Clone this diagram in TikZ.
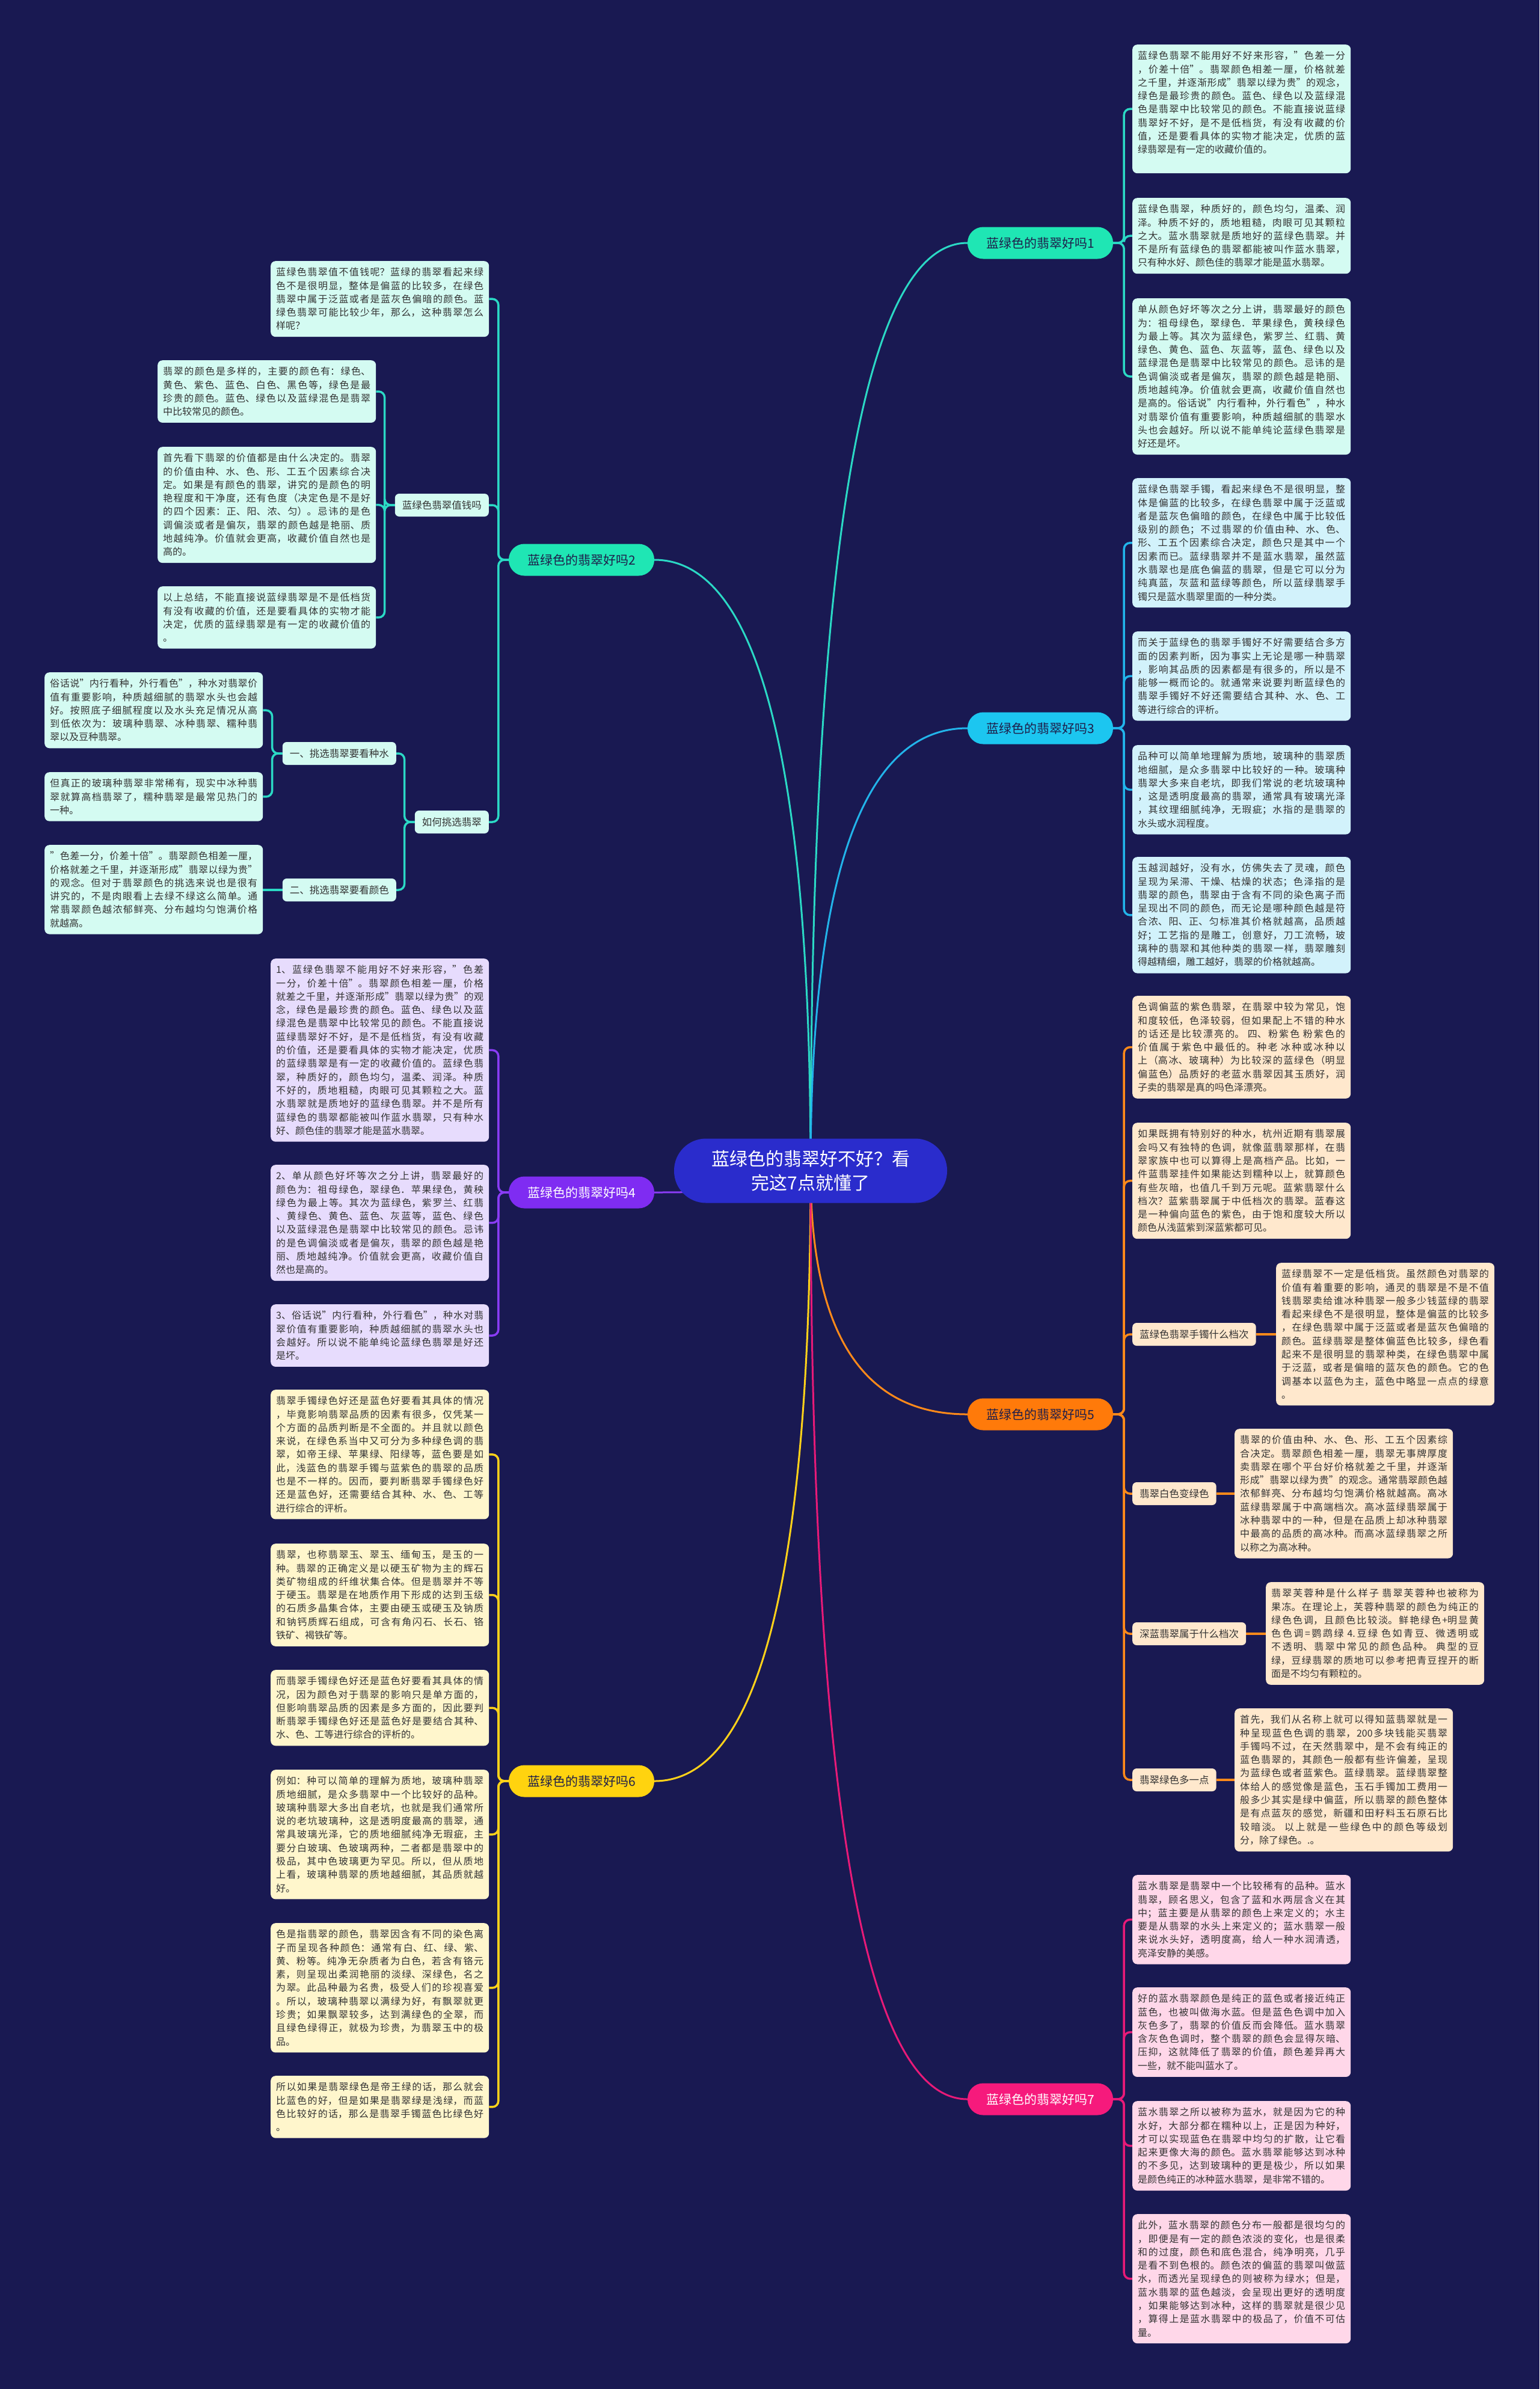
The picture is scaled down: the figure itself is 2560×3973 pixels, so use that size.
\documentclass[tikz,border=0pt]{standalone}
\usepackage{fontspec}
\setmainfont{Noto Sans CJK SC}
\usetikzlibrary{calc}
\XeTeXlinebreaklocale "zh"
\XeTeXlinebreakskip=0pt plus 2pt minus 0.3pt
\definecolor{bgc}{HTML}{191952}
\definecolor{txt}{HTML}{333333}
\definecolor{dk}{HTML}{1E1E4A}
\definecolor{rootc}{HTML}{2A2CCC}
\definecolor{mintF}{HTML}{1FE6B4}
\definecolor{mintL}{HTML}{2BD9C5}
\definecolor{cyanF}{HTML}{1CC6F0}
\definecolor{cyanL}{HTML}{22B4EA}
\definecolor{purF}{HTML}{7F2CF2}
\definecolor{purL}{HTML}{8A3CF5}
\definecolor{orgF}{HTML}{FF7A0A}
\definecolor{orgL}{HTML}{FF8A1A}
\definecolor{yelF}{HTML}{FFD30F}
\definecolor{yelL}{HTML}{FFD21A}
\definecolor{pnkF}{HTML}{F61A7C}
\definecolor{pnkL}{HTML}{E81A78}
\definecolor{mintB}{HTML}{D4FBF2}
\definecolor{cyanB}{HTML}{D2F2FB}
\definecolor{purB}{HTML}{E7DCFD}
\definecolor{orgB}{HTML}{FFE8CD}
\definecolor{yelB}{HTML}{FFF6CC}
\definecolor{pnkB}{HTML}{FFD7E9}
\newcommand\NL{\linebreak}
\pgfdeclarelayer{back}
\pgfdeclarelayer{edges}
\pgfsetlayers{back,edges,main}
\tikzset{
  leaf/.style={rounded corners=8pt, inner xsep=9pt, inner ysep=11pt, text width=345pt,
    align=justify, font=\fontsize{16}{22.3}\selectfont, text=txt, anchor=north west},
  lab/.style={rounded corners=7pt, inner xsep=12pt, inner ysep=0pt, minimum height=38pt,
    font=\fontsize{16.5}{20}\selectfont, text=txt},
  br/.style={rounded corners=26pt, minimum width=242pt, minimum height=53pt, inner sep=0pt,
    font=\fontsize{21}{24}\selectfont},
  rootn/.style={fill=rootc, rounded corners=53pt, minimum width=454pt, minimum height=107pt,
    inner sep=0pt, align=center, text=white, font=\fontsize{30}{40}\selectfont},
  rl/.style={line width=3pt},
  ll/.style={line width=3.5pt, rounded corners=10pt}
}
\newcommand\rootlink[2]{\draw[rl,#2] (R.center) .. controls ($(R.center)!0.667!(R.center|-#1)$) and ($(#1)!0.667!(R.center|-#1)$) .. (#1);}
\newcommand\rlink[3]{\draw[ll,#3] (#1.east) -- ++(18,0) |- (#2.west);}
\newcommand\llink[3]{\draw[ll,#3] (#1.west) -- ++(-17,0) |- (#2.east);}
\begin{document}
\begin{tikzpicture}[x=1pt,y=-1pt]
\begin{pgfonlayer}{back}
\fill[bgc] (0,0) rectangle (2560,3973);
\end{pgfonlayer}
\useasboundingbox (0,0) rectangle (2560,3973);

% root and branches
\node[rootn] (R) at (1348,1947) {蓝绿色的翡翠好不好？看\\完这7点就懂了};
\node[br, fill=mintF, text=dk] (B1) at (1730,404) {蓝绿色的翡翠好吗1};
\node[br, fill=mintF, text=dk] (B2) at (967,931) {蓝绿色的翡翠好吗2};
\node[br, fill=cyanF, text=dk] (B3) at (1730,1211) {蓝绿色的翡翠好吗3};
\node[br, fill=purF, text=white] (B4) at (967,1983) {蓝绿色的翡翠好吗4};
\node[br, fill=orgF, text=dk] (B5) at (1730,2352) {蓝绿色的翡翠好吗5};
\node[br, fill=yelF, text=dk] (B6) at (967,2962) {蓝绿色的翡翠好吗6};
\node[br, fill=pnkF, text=white] (B7) at (1730,3491) {蓝绿色的翡翠好吗7};

% ---- branch 1
\node[leaf, fill=mintB] (L1a) at (1883,74) {蓝绿色翡翠不能用好不好来形容，"色差一分\NL ，价差十倍"。翡翠颜色相差一厘，价格就差\NL 之千里，并逐渐形成"翡翠以绿为贵"的观念，\NL 绿色是最珍贵的颜色。蓝色、绿色以及蓝绿混\NL 色是翡翠中比较常见的颜色。不能直接说蓝绿\NL 翡翠好不好，是不是低档货，有没有收藏的价\NL 值，还是要看具体的实物才能决定，优质的蓝\NL 绿翡翠是有一定的收藏价值的。\par\mbox{}};
\node[leaf, fill=mintB] (L1b) at (1883,329) {蓝绿色翡翠，种质好的，颜色均匀，温柔、润\NL 泽。种质不好的，质地粗糙，肉眼可见其颗粒\NL 之大。蓝水翡翠就是质地好的蓝绿色翡翠。并\NL 不是所有蓝绿色的翡翠都能被叫作蓝水翡翠，\NL 只有种水好、颜色佳的翡翠才能是蓝水翡翠。};
\node[leaf, fill=mintB] (L1c) at (1883,496) {单从颜色好坏等次之分上讲，翡翠最好的颜色\NL 为：祖母绿色，翠绿色．苹果绿色，黄秧绿色\NL 为最上等。其次为蓝绿色，紫罗兰、红翡、黄\NL 绿色、黄色、蓝色、灰蓝等，蓝色、绿色以及\NL 蓝绿混色是翡翠中比较常见的颜色。忌讳的是\NL 色调偏淡或者是偏灰，翡翠的颜色越是艳丽、\NL 质地越纯净。价值就会更高，收藏价值自然也\NL 是高的。俗话说"内行看种，外行看色"，种水\NL 对翡翠价值有重要影响，种质越细腻的翡翠水\NL 头也会越好。所以说不能单纯论蓝绿色翡翠是\NL 好还是坏。};

% ---- branch 3
\node[leaf, fill=cyanB] (L3a) at (1883,795) {蓝绿色翡翠手镯，看起来绿色不是很明显，整\NL 体是偏蓝的比较多，在绿色翡翠中属于泛蓝或\NL 者是蓝灰色偏暗的颜色，在绿色中属于比较低\NL 级别的颜色；不过翡翠的价值由种、水、色、\NL 形、工五个因素综合决定，颜色只是其中一个\NL 因素而已。蓝绿翡翠并不是蓝水翡翠，虽然蓝\NL 水翡翠也是底色偏蓝的翡翠，但是它可以分为\NL 纯真蓝，灰蓝和蓝绿等颜色，所以蓝绿翡翠手\NL 镯只是蓝水翡翠里面的一种分类。};
\node[leaf, fill=cyanB] (L3b) at (1883,1050) {而关于蓝绿色的翡翠手镯好不好需要结合多方\NL 面的因素判断，因为事实上无论是哪一种翡翠\NL ，影响其品质的因素都是有很多的，所以是不\NL 能够一概而论的。就通常来说要判断蓝绿色的\NL 翡翠手镯好不好还需要结合其种、水、色、工\NL 等进行综合的评析。};
\node[leaf, fill=cyanB] (L3c) at (1883,1239) {品种可以简单地理解为质地，玻璃种的翡翠质\NL 地细腻，是众多翡翠中比较好的一种。玻璃种\NL 翡翠大多来自老坑，即我们常说的老坑玻璃种\NL ，这是透明度最高的翡翠，通常具有玻璃光泽\NL ，其纹理细腻纯净，无瑕疵；水指的是翡翠的\NL 水头或水润程度。};
\node[leaf, fill=cyanB] (L3d) at (1883,1425) {玉越润越好，没有水，仿佛失去了灵魂，颜色\NL 呈现为呆滞、干燥、枯燥的状态；色泽指的是\NL 翡翠的颜色，翡翠由于含有不同的染色离子而\NL 呈现出不同的颜色，而无论是哪种颜色越是符\NL 合浓、阳、正、匀标准其价格就越高，品质越\NL 好；工艺指的是雕工，创意好，刀工流畅，玻\NL 璃种的翡翠和其他种类的翡翠一样，翡翠雕刻\NL 得越精细，雕工越好，翡翠的价格就越高。};

% ---- branch 5
\node[leaf, fill=orgB] (L5a) at (1883,1656) {色调偏蓝的紫色翡翠，在翡翠中较为常见，饱\NL 和度较低，色泽较弱，但如果配上不错的种水\NL 的话还是比较漂亮的。 四、粉紫色 粉紫色的\NL 价值属于紫色中最低的。种老 冰种或冰种以\NL 上（高冰、玻璃种）为比较深的蓝绿色（明显\NL 偏蓝色）品质好的老蓝水翡翠因其玉质好，润\NL 子卖的翡翠是真的吗色泽漂亮。};
\node[leaf, fill=orgB] (L5b) at (1883,1867) {如果既拥有特别好的种水，杭州近期有翡翠展\NL 会吗又有独特的色调，就像蓝翡翠那样，在翡\NL 翠家族中也可以算得上是高档产品。比如，一\NL 件蓝翡翠挂件如果能达到糯种以上，就算颜色\NL 有些灰暗，也值几千到万元呢。蓝紫翡翠什么\NL 档次？蓝紫翡翠属于中低档次的翡翠。蓝春这\NL 是一种偏向蓝色的紫色，由于饱和度较大所以\NL 颜色从浅蓝紫到深蓝紫都可见。};
\node[leaf, fill=orgB] (L5c) at (2122,2100) {蓝绿翡翠不一定是低档货。虽然颜色对翡翠的\NL 价值有着重要的影响，通灵的翡翠是不是不值\NL 钱翡翠卖给谁冰种翡翠一般多少钱蓝绿的翡翠\NL 看起来绿色不是很明显，整体是偏蓝的比较多\NL ，在绿色翡翠中属于泛蓝或者是蓝灰色偏暗的\NL 颜色。蓝绿翡翠是整体偏蓝色比较多，绿色看\NL 起来不是很明显的翡翠种类，在绿色翡翠中属\NL 于泛蓝，或者是偏暗的蓝灰色的颜色。它的色\NL 调基本以蓝色为主，蓝色中略显一点点的绿意\NL 。};
\node[lab, fill=orgB, anchor=west] (L5cl) at (1883,2219) {蓝绿色翡翠手镯什么档次};
\node[leaf, fill=orgB] (L5d) at (2053,2376) {翡翠的价值由种、水、色、形、工五个因素综\NL 合决定。翡翠颜色相差一厘，翡翠无事牌厚度\NL 卖翡翠在哪个平台好价格就差之千里，并逐渐\NL 形成"翡翠以绿为贵"的观念。通常翡翠颜色越\NL 浓郁鲜亮、分布越均匀饱满价格就越高。高冰\NL 蓝绿翡翠属于中高端档次。高冰蓝绿翡翠属于\NL 冰种翡翠中的一种，但是在品质上却冰种翡翠\NL 中最高的品质的高冰种。而高冰蓝绿翡翠之所\NL 以称之为高冰种。};
\node[lab, fill=orgB, anchor=west] (L5dl) at (1883,2484) {翡翠白色变绿色};
\node[leaf, fill=orgB] (L5e) at (2105,2631) {翡翠芙蓉种是什么样子 翡翠芙蓉种也被称为\NL 果冻。在理论上，芙蓉种翡翠的颜色为纯正的\NL 绿色色调，且颜色比较淡。鲜艳绿色+明显黄\NL 色色调=鹦鹉绿 4.豆绿 色如青豆、微透明或\NL 不透明、翡翠中常见的颜色品种。 典型的豆\NL 绿，豆绿翡翠的质地可以参考把青豆捏开的断\NL 面是不均匀有颗粒的。};
\node[lab, fill=orgB, anchor=west] (L5el) at (1883,2717) {深蓝翡翠属于什么档次};
\node[leaf, fill=orgB] (L5f) at (2053,2841) {首先，我们从名称上就可以得知蓝翡翠就是一\NL 种呈现蓝色色调的翡翠，200多块钱能买翡翠\NL 手镯吗不过，在天然翡翠中，是不会有纯正的\NL 蓝色翡翠的，其颜色一般都有些许偏差，呈现\NL 为蓝绿色或者蓝紫色。蓝绿翡翠。蓝绿翡翠整\NL 体给人的感觉像是蓝色，玉石手镯加工费用一\NL 般多少其实是绿中偏蓝，所以翡翠的颜色整体\NL 是有点蓝灰的感觉，新疆和田籽料玉石原石比\NL 较暗淡。 以上就是一些绿色中的颜色等级划\NL 分，除了绿色。.。};
\node[lab, fill=orgB, anchor=west] (L5fl) at (1883,2960) {翡翠绿色多一点};

% ---- branch 7
\node[leaf, fill=pnkB] (L7a) at (1883,3118) {蓝水翡翠是翡翠中一个比较稀有的品种。蓝水\NL 翡翠，顾名思义，包含了蓝和水两层含义在其\NL 中；蓝主要是从翡翠的颜色上来定义的；水主\NL 要是从翡翠的水头上来定义的；蓝水翡翠一般\NL 来说水头好，透明度高，给人一种水润清透，\NL 亮泽安静的美感。};
\node[leaf, fill=pnkB] (L7b) at (1883,3305) {好的蓝水翡翠颜色是纯正的蓝色或者接近纯正\NL 蓝色，也被叫做海水蓝。但是蓝色色调中加入\NL 灰色多了，翡翠的价值反而会降低。蓝水翡翠\NL 含灰色色调时，整个翡翠的颜色会显得灰暗、\NL 压抑，这就降低了翡翠的价值，颜色差异再大\NL 一些，就不能叫蓝水了。};
\node[leaf, fill=pnkB] (L7c) at (1883,3494) {蓝水翡翠之所以被称为蓝水，就是因为它的种\NL 水好，大部分都在糯种以上，正是因为种好，\NL 才可以实现蓝色在翡翠中均匀的扩散，让它看\NL 起来更像大海的颜色。蓝水翡翠能够达到冰种\NL 的不多见，达到玻璃种的更是极少，所以如果\NL 是颜色纯正的冰种蓝水翡翠，是非常不错的。};
\node[leaf, fill=pnkB] (L7d) at (1883,3682) {此外，蓝水翡翠的颜色分布一般都是很均匀的\NL ，即便是有一定的颜色浓淡的变化，也是很柔\NL 和的过度，颜色和底色混合，纯净明亮，几乎\NL 是看不到色根的。颜色浓的偏蓝的翡翠叫做蓝\NL 水，而透光呈现绿色的则被称为绿水；但是，\NL 蓝水翡翠的蓝色越淡，会呈现出更好的透明度\NL ，如果能够达到冰种，这样的翡翠就是很少见\NL ，算得上是蓝水翡翠中的极品了，价值不可估\NL 量。};

% ---- branch 2
\node[leaf, fill=mintB] (L2a) at (450,434) {蓝绿色翡翠值不值钱呢？蓝绿的翡翠看起来绿\NL 色不是很明显，整体是偏蓝的比较多，在绿色\NL 翡翠中属于泛蓝或者是蓝灰色偏暗的颜色。蓝\NL 绿色翡翠可能比较少年，那么，这种翡翠怎么\NL 样呢？};
\node[lab, fill=mintB, anchor=east] (L2l) at (813,840) {蓝绿色翡翠值钱吗};
\node[leaf, fill=mintB] (L2b1) at (262,599) {翡翠的颜色是多样的，主要的颜色有：绿色、\NL 黄色、紫色、蓝色、白色、黑色等，绿色是最\NL 珍贵的颜色。蓝色、绿色以及蓝绿混色是翡翠\NL 中比较常见的颜色。};
\node[leaf, fill=mintB] (L2b2) at (262,743) {首先看下翡翠的价值都是由什么决定的。翡翠\NL 的价值由种、水、色、形、工五个因素综合决\NL 定。如果是有颜色的翡翠，讲究的是颜色的明\NL 艳程度和干净度，还有色度（决定色是不是好\NL 的四个因素：正、阳、浓、匀）。忌讳的是色\NL 调偏淡或者是偏灰，翡翠的颜色越是艳丽、质\NL 地越纯净。价值就会更高，收藏价值自然也是\NL 高的。};
\node[leaf, fill=mintB] (L2b3) at (262,975) {以上总结，不能直接说蓝绿翡翠是不是低档货\NL 有没有收藏的价值，还是要看具体的实物才能\NL 决定，优质的蓝绿翡翠是有一定的收藏价值的\NL 。};
\node[lab, fill=mintB, anchor=east] (L2m) at (813,1367) {如何挑选翡翠};
\node[lab, fill=mintB, anchor=east] (L2n1) at (659,1253) {一、挑选翡翠要看种水};
\node[lab, fill=mintB, anchor=east] (L2n2) at (659,1480) {二、挑选翡翠要看颜色};
\node[leaf, fill=mintB] (L2c1) at (74,1118) {俗话说"内行看种，外行看色"，种水对翡翠价\NL 值有重要影响，种质越细腻的翡翠水头也会越\NL 好。按照底子细腻程度以及水头充足情况从高\NL 到低依次为：玻璃种翡翠、冰种翡翠、糯种翡\NL 翠以及豆种翡翠。};
\node[leaf, fill=mintB] (L2c2) at (74,1284) {但真正的玻璃种翡翠非常稀有，现实中冰种翡\NL 翠就算高档翡翠了，糯种翡翠是最常见热门的\NL 一种。};
\node[leaf, fill=mintB] (L2d1) at (74,1405) {"色差一分，价差十倍"。翡翠颜色相差一厘，\NL 价格就差之千里，并逐渐形成"翡翠以绿为贵"\NL 的观念。但对于翡翠颜色的挑选来说也是很有\NL 讲究的，不是肉眼看上去绿不绿这么简单。通\NL 常翡翠颜色越浓郁鲜亮、分布越均匀饱满价格\NL 就越高。};

% ---- branch 4
\node[leaf, fill=purB] (L4a) at (450,1594) {1、蓝绿色翡翠不能用好不好来形容，"色差\NL 一分，价差十倍"。翡翠颜色相差一厘，价格\NL 就差之千里，并逐渐形成"翡翠以绿为贵"的观\NL 念，绿色是最珍贵的颜色。蓝色、绿色以及蓝\NL 绿混色是翡翠中比较常见的颜色。不能直接说\NL 蓝绿翡翠好不好，是不是低档货，有没有收藏\NL 的价值，还是要看具体的实物才能决定，优质\NL 的蓝绿翡翠是有一定的收藏价值的。蓝绿色翡\NL 翠，种质好的，颜色均匀，温柔、润泽。种质\NL 不好的，质地粗糙，肉眼可见其颗粒之大。蓝\NL 水翡翠就是质地好的蓝绿色翡翠。并不是所有\NL 蓝绿色的翡翠都能被叫作蓝水翡翠，只有种水\NL 好、颜色佳的翡翠才能是蓝水翡翠。};
\node[leaf, fill=purB] (L4b) at (450,1937) {2、单从颜色好坏等次之分上讲，翡翠最好的\NL 颜色为：祖母绿色，翠绿色．苹果绿色，黄秧\NL 绿色为最上等。其次为蓝绿色，紫罗兰、红翡\NL 、黄绿色、黄色、蓝色、灰蓝等，蓝色、绿色\NL 以及蓝绿混色是翡翠中比较常见的颜色。忌讳\NL 的是色调偏淡或者是偏灰，翡翠的颜色越是艳\NL 丽、质地越纯净。价值就会更高，收藏价值自\NL 然也是高的。};
\node[leaf, fill=purB] (L4c) at (450,2169) {3、俗话说"内行看种，外行看色"，种水对翡\NL 翠价值有重要影响，种质越细腻的翡翠水头也\NL 会越好。所以说不能单纯论蓝绿色翡翠是好还\NL 是坏。};

% ---- branch 6
\node[leaf, fill=yelB] (L6a) at (450,2311) {翡翠手镯绿色好还是蓝色好要看其具体的情况\NL ，毕竟影响翡翠品质的因素有很多，仅凭某一\NL 个方面的品质判断是不全面的。并且就以颜色\NL 来说，在绿色系当中又可分为多种绿色调的翡\NL 翠，如帝王绿、苹果绿、阳绿等，蓝色要是如\NL 此，浅蓝色的翡翠手镯与蓝紫色的翡翠的品质\NL 也是不一样的。因而，要判断翡翠手镯绿色好\NL 还是蓝色好，还需要结合其种、水、色、工等\NL 进行综合的评析。};
\node[leaf, fill=yelB] (L6b) at (450,2567) {翡翠，也称翡翠玉、翠玉、缅甸玉，是玉的一\NL 种。翡翠的正确定义是以硬玉矿物为主的辉石\NL 类矿物组成的纤维状集合体。但是翡翠并不等\NL 于硬玉。翡翠是在地质作用下形成的达到玉级\NL 的石质多晶集合体，主要由硬玉或硬玉及钠质\NL 和钠钙质辉石组成，可含有角闪石、长石、铬\NL 铁矿、褐铁矿等。};
\node[leaf, fill=yelB] (L6c) at (450,2777) {而翡翠手镯绿色好还是蓝色好要看其具体的情\NL 况，因为颜色对于翡翠的影响只是单方面的，\NL 但影响翡翠品质的因素是多方面的，因此要判\NL 断翡翠手镯绿色好还是蓝色好是要结合其种、\NL 水、色、工等进行综合的评析的。};
\node[leaf, fill=yelB] (L6d) at (450,2943) {例如：种可以简单的理解为质地，玻璃种翡翠\NL 质地细腻，是众多翡翠中一个比较好的品种。\NL 玻璃种翡翠大多出自老坑，也就是我们通常所\NL 说的老坑玻璃种，这是透明度最高的翡翠，通\NL 常具玻璃光泽，它的质地细腻纯净无瑕疵，主\NL 要分白玻璃、色玻璃两种，二者都是翡翠中的\NL 极品，其中色玻璃更为罕见。所以，但从质地\NL 上看，玻璃种翡翠的质地越细腻，其品质就越\NL 好。};
\node[leaf, fill=yelB] (L6e) at (450,3198) {色是指翡翠的颜色，翡翠因含有不同的染色离\NL 子而呈现各种颜色：通常有白、红、绿、紫、\NL 黄、粉等。纯净无杂质者为白色，若含有铬元\NL 素，则呈现出柔润艳丽的淡绿、深绿色，名之\NL 为翠。此品种最为名贵，极受人们的珍视喜爱\NL 。所以，玻璃种翡翠以满绿为好，有飘翠就更\NL 珍贵；如果飘翠较多，达到满绿色的全翠，而\NL 且绿色绿得正，就极为珍贵，为翡翠玉中的极\NL 品。};
\node[leaf, fill=yelB] (L6f) at (450,3452) {所以如果是翡翠绿色是帝王绿的话，那么就会\NL 比蓝色的好，但是如果是翡翠绿是浅绿，而蓝\NL 色比较好的话，那么是翡翠手镯蓝色比绿色好\NL 。};

% ---- connectors
\begin{pgfonlayer}{edges}
\rootlink{B1.west}{mintL}
\rootlink{B2.east}{mintL}
\rootlink{B3.west}{cyanL}
\rootlink{B4.east}{purL}
\rootlink{B5.west}{orgL}
\rootlink{B6.east}{yelL}
\rootlink{B7.west}{pnkL}
\rlink{B1}{L1a}{mintL}
\rlink{B1}{L1b}{mintL}
\rlink{B1}{L1c}{mintL}
\rlink{B3}{L3a}{cyanL}
\rlink{B3}{L3b}{cyanL}
\rlink{B3}{L3c}{cyanL}
\rlink{B3}{L3d}{cyanL}
\rlink{B5}{L5a}{orgL}
\rlink{B5}{L5b}{orgL}
\rlink{B5}{L5cl}{orgL}
\rlink{B5}{L5dl}{orgL}
\rlink{B5}{L5el}{orgL}
\rlink{B5}{L5fl}{orgL}
\draw[ll,orgL] (L5cl.east) -- (L5cl.east -| L5c.west);
\draw[ll,orgL] (L5dl.east) -- (L5dl.east -| L5d.west);
\draw[ll,orgL] (L5el.east) -- (L5el.east -| L5e.west);
\draw[ll,orgL] (L5fl.east) -- (L5fl.east -| L5f.west);
\rlink{B7}{L7a}{pnkL}
\rlink{B7}{L7b}{pnkL}
\rlink{B7}{L7c}{pnkL}
\rlink{B7}{L7d}{pnkL}
\llink{B2}{L2a}{mintL}
\llink{B2}{L2l}{mintL}
\llink{B2}{L2m}{mintL}
\llink{L2l}{L2b1}{mintL}
\llink{L2l}{L2b2}{mintL}
\llink{L2l}{L2b3}{mintL}
\llink{L2m}{L2n1}{mintL}
\llink{L2m}{L2n2}{mintL}
\llink{L2n1}{L2c1}{mintL}
\llink{L2n1}{L2c2}{mintL}
\draw[ll,mintL] (L2n2.west) -- (L2n2.west -| L2d1.east);
\llink{B4}{L4a}{purL}
\llink{B4}{L4b}{purL}
\llink{B4}{L4c}{purL}
\llink{B6}{L6a}{yelL}
\llink{B6}{L6b}{yelL}
\llink{B6}{L6c}{yelL}
\llink{B6}{L6d}{yelL}
\llink{B6}{L6e}{yelL}
\llink{B6}{L6f}{yelL}
\end{pgfonlayer}
\end{tikzpicture}
\end{document}
